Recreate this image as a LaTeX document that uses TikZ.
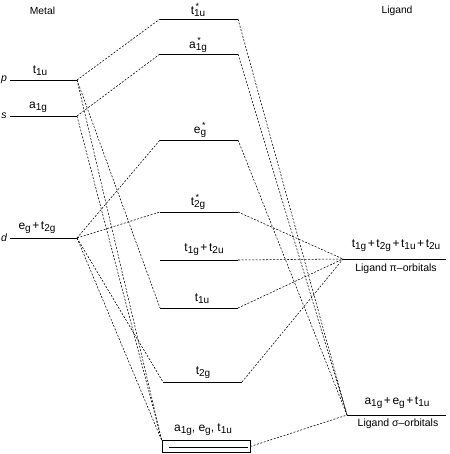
\documentclass[tikz,border=0pt]{standalone}
\usepackage{fontspec}
\setmainfont{Liberation Sans}
\newcommand{\orb}[2]{#1\raisebox{-0.28ex}{\fontsize{10}{10}\selectfont #2}}
\newcommand{\orbst}[2]{#1\makebox[0pt][l]{\raisebox{0.8ex}{\fontsize{9}{9}\selectfont\,*}}\raisebox{-0.28ex}{\fontsize{10}{10}\selectfont #2}}
\newcommand{\pl}{\hspace{1.6pt}+\hspace{1.6pt}}
\begin{document}
\begin{tikzpicture}[x=1pt,y=-1pt,
  level/.style={line width=0.8pt},
  conn/.style={line width=0.55pt, dash pattern=on 2pt off 1.5pt},
  lab/.style={font=\fontsize{10.5}{12}\selectfont, inner sep=0pt},
  olab/.style={font=\fontsize{12}{13}\selectfont, inner sep=0pt},
  hlab/.style={font=\fontsize{10.3}{11}\selectfont, inner sep=0pt}]
\useasboundingbox (0,0) rectangle (449,454);
% headers
\node[hlab] (hm) at (42.5,11) {Metal};
\node[hlab] (hl) at (397,11) {Ligand};
% metal levels
\coordinate (pL) at (10,80);  \coordinate (pR) at (77,80);
\coordinate (sL) at (10,116); \coordinate (sR) at (77,116);
\coordinate (dL) at (10,238); \coordinate (dR) at (77,238);
\draw[level] (pL) -- (pR);
\draw[level] (sL) -- (sR);
\draw[level] (dL) -- (dR);
\node[lab,font=\fontsize{10.5}{12}\selectfont\itshape] (lp) at (4,80) {p};
\node[lab,font=\fontsize{10.5}{12}\selectfont\itshape] (ls) at (4,116) {s};
\node[lab,font=\fontsize{10.5}{12}\selectfont\itshape] (ld) at (4,238) {d};
\node[olab] (lpt) at (40,71) {\orb{t}{1u}};
\node[olab] (lsa) at (38,107) {\orb{a}{1g}};
\node[olab] (ldt) at (37,228) {\orb{e}{g}\pl\orb{t}{2g}};
% MO levels
\coordinate (m1L) at (160,19);  \coordinate (m1R) at (238,19);
\coordinate (m2L) at (160,54);  \coordinate (m2R) at (238,54);
\coordinate (m3L) at (160,140); \coordinate (m3R) at (238,140);
\coordinate (m4L) at (160,212); \coordinate (m4R) at (238,212);
\coordinate (m5L) at (160,260); \coordinate (m5R) at (238,260);
\coordinate (m6L) at (160,308); \coordinate (m6R) at (238,308);
\coordinate (m7L) at (163,382); \coordinate (m7R) at (242,382);
\foreach \i in {1,...,7} {\draw[level] (m\i L) -- (m\i R);}
\node[olab] (t1) at (198,10) {\orbst{t}{1u}};
\node[olab] (t2) at (198,45) {\orbst{a}{1g}};
\node[olab] (t3) at (200,130) {\orbst{e}{g}};
\node[olab] (t4) at (198,202) {\orbst{t}{2g}};
\node[olab] (t5) at (204,250) {\orb{t}{1g}\pl\orb{t}{2u}};
\node[olab] (t6) at (202,299) {\orb{t}{1u}};
\node[olab] (t7) at (203,373) {\orb{t}{2g}};
% boxed level
\node[draw,line width=0.6pt,minimum width=88pt,minimum height=11.5pt,inner sep=0pt] (bx) at (206,446.5) {};
\draw[level] (169,447) -- (248,447);
\node[olab] (t8) at (203,430) {\orb{a}{1g}, \orb{e}{g}, \orb{t}{1u}};
% ligand levels
\coordinate (piL) at (343,259); \coordinate (piR) at (446,259);
\coordinate (sgL) at (347,415); \coordinate (sgR) at (446,415);
\draw[level] (piL) -- (piR);
\draw[level] (sgL) -- (sgR);
\node[olab] (pit) at (396,246) {\orb{t}{1g}\pl\orb{t}{2g}\pl\orb{t}{1u}\pl\orb{t}{2u}};
\node[lab] (pib) at (396,269) {Ligand π–orbitals};
\node[olab] (sgt) at (397,403) {\orb{a}{1g}\pl\orb{e}{g}\pl\orb{t}{1u}};
\node[lab] (sgb) at (398,424) {Ligand σ–orbitals};
% connectors left
\draw[conn] (pR) -- (m1L);
\draw[conn] (pR) -- (m6L);
\draw[conn] (pR) -- (bx.north west);
\draw[conn] (sR) -- (m2L);
\draw[conn] (sR) -- (bx.north west);
\draw[conn] (dR) -- (m3L);
\draw[conn] (dR) -- (m4L);
\draw[conn] (dR) -- (m7L);
\draw[conn] (dR) -- (bx.north west);
% connectors right
\draw[conn] (m1R) -- (sgL);
\draw[conn] (m2R) -- (sgL);
\draw[conn] (m3R) -- (sgL);
\draw[conn] (m4R) -- (piL);
\draw[conn] (m5R) -- (piL);
\draw[conn] (m6R) -- (piL);
\draw[conn] (m7R) -- (piL);
\draw[conn] (bx.east) -- (sgL);
\end{tikzpicture}
\end{document}
